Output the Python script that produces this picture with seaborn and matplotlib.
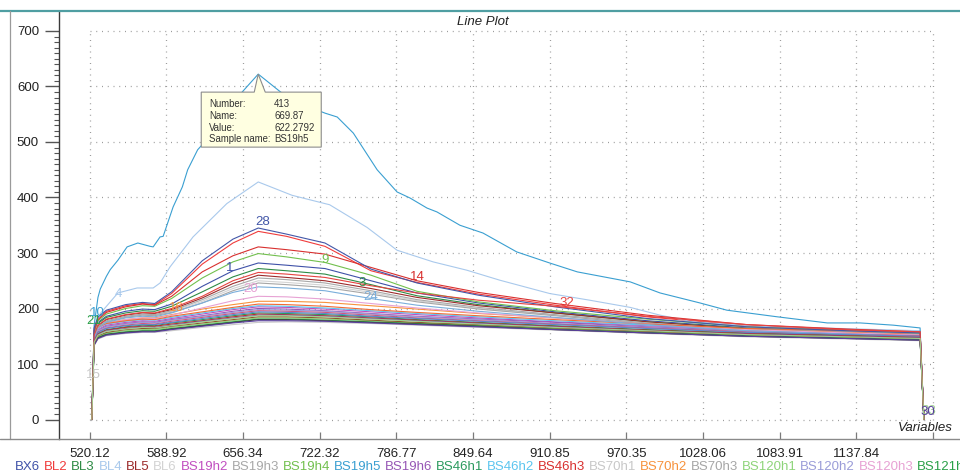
import matplotlib
matplotlib.use("Agg")
import matplotlib.pyplot as plt
import matplotlib.transforms as mtransforms
from matplotlib.lines import Line2D
from matplotlib.patches import Polygon
from matplotlib.text import Annotation
from matplotlib.ticker import FixedLocator
import pandas as pd
import seaborn as sns

# ---- data -------------------------------------------------------------
variable_number = [196, 199, 204, 215, 240, 262, 278, 300, 340, 380, 413,
                   450, 500, 560, 620, 700, 800, 920, 1050, 1180, 1276, 1281]

tick_positions = [193, 293, 393, 493, 593, 693, 793, 893, 993, 1093, 1193, 1293]
tick_labels = ["520.12", "588.92", "656.34", "722.32", "786.77", "849.64",
               "910.85", "970.35", "1028.06", "1083.91", "1137.84", ""]

# the two tallest spectra are sampled more finely
bs19h5_variable = [196, 199, 204, 207, 215, 220, 230, 242, 256, 272, 276, 285, 289,
                   302, 314, 321, 334, 361, 392, 413, 444, 467, 500, 516, 537, 568,
                   594, 611, 633, 646, 676, 706, 750, 793, 829, 898, 937, 989, 1024,
                   1090, 1155, 1198, 1241, 1276, 1281]
bs19h5 = [0, 170, 220, 235, 258, 270, 287, 311, 318, 312, 311, 329, 330,
          383, 419, 450, 486, 527, 590, 622.2792, 588, 570, 552, 545, 516, 450,
          410, 399, 381, 374, 350, 336, 302, 282, 266, 248, 228, 210, 197,
          185, 174, 174, 170, 165, 0]

bl4_variable = [196, 199, 207, 230, 255, 276, 285, 298, 328, 372, 413, 457, 500,
                506, 555, 594, 641, 685, 728, 793, 845, 898, 937, 980, 1068, 1198,
                1276, 1281]
bl4 = [0, 150, 191, 228, 237, 237, 246, 275, 329, 389, 428, 404, 389,
       387, 346, 305, 284, 269, 251, 227, 215, 202, 188, 176, 168, 163,
       160, 0]

bx6 = [0, 155, 175, 186, 195, 199, 198, 208, 240, 268, 282, 278, 272, 250, 228, 210, 194, 178, 165, 158, 153, 0]
bl2 = [0, 163, 183, 195, 205, 209, 207, 227, 280, 318, 339, 330, 312, 268, 247, 226, 206, 185, 169, 161, 157, 0]
bl3 = [0, 154, 173, 184, 192, 196, 195, 204, 230, 257, 272, 268, 262, 243, 223, 207, 192, 176, 164, 157, 152, 0]
bl5 = [0, 151, 168, 180, 188, 192, 191, 198, 219, 245, 260, 256, 250, 236, 220, 205, 192, 176, 163, 156, 151, 0]
bl6 = [0, 150, 166, 177, 185, 189, 188, 195, 213, 236, 250, 247, 242, 229, 214, 200, 188, 173, 161, 155, 150, 0]
bs19h2 = [0, 147, 163, 170, 175, 178, 177, 182, 190, 198, 203, 202, 199, 194, 189, 183, 176, 169, 162, 158, 155, 0]
bs19h3 = [0, 151, 167, 178, 186, 190, 189, 196, 216, 240, 255, 252, 246, 232, 216, 202, 189, 174, 162, 155, 150, 0]
bs19h4 = [0, 158, 178, 190, 200, 205, 204, 218, 255, 284, 299, 293, 283, 260, 231, 212, 196, 181, 167, 160, 155, 0]
bs19h6 = [0, 146, 161, 168, 173, 176, 175, 180, 187, 195, 200, 199, 196, 191, 186, 181, 175, 167, 160, 156, 153, 0]
bs46h1 = [0, 142, 155, 162, 167, 170, 169, 174, 180, 187, 192, 191, 189, 185, 180, 175, 169, 162, 156, 152, 149, 0]
bs46h2 = [0, 149, 164, 172, 177, 180, 179, 184, 192, 200, 205, 204, 201, 196, 191, 185, 178, 170, 163, 159, 156, 0]
bs46h3 = [0, 160, 180, 193, 203, 208, 206, 222, 266, 295, 311, 306, 298, 274, 250, 229, 209, 188, 171, 163, 158, 0]
bs70h1 = [0, 133, 145, 151, 155, 157, 157, 160, 166, 171, 175, 176, 175, 173, 170, 166, 161, 155, 149, 145, 142, 0]
bs70h2 = [0, 150, 166, 174, 180, 183, 183, 189, 199, 207, 213, 213, 211, 205, 199, 191, 183, 172, 162, 157, 153, 0]
bs70h3 = [0, 149, 165, 176, 184, 188, 187, 193, 210, 232, 246, 243, 238, 226, 212, 199, 187, 172, 160, 154, 149, 0]
bs120h1 = [0, 137, 149, 156, 160, 162, 162, 166, 172, 178, 183, 183, 181, 178, 174, 170, 164, 158, 152, 148, 145, 0]
bs120h2 = [0, 145, 160, 167, 172, 175, 174, 179, 186, 193, 198, 197, 195, 190, 185, 180, 173, 166, 159, 155, 152, 0]
bs120h3 = [0, 148, 164, 173, 180, 183, 182, 188, 201, 214, 222, 221, 217, 209, 201, 192, 183, 172, 162, 156, 152, 0]
bs121h1 = [0, 136, 148, 154, 158, 160, 160, 164, 170, 176, 181, 181, 179, 176, 173, 169, 163, 157, 151, 147, 144, 0]
bs121h2 = [0, 144, 158, 165, 170, 173, 172, 177, 184, 191, 196, 195, 193, 188, 183, 178, 172, 165, 158, 154, 151, 0]
bs121h3 = [0, 150, 166, 173, 178, 181, 180, 186, 194, 202, 208, 207, 204, 198, 193, 187, 180, 172, 164, 160, 157, 0]
bs122h1 = [0, 148, 165, 175, 183, 186, 185, 192, 210, 229, 239, 237, 232, 218, 206, 195, 184, 171, 160, 154, 149, 0]
bs122h2 = [0, 143, 157, 164, 169, 171, 171, 175, 182, 189, 194, 193, 191, 186, 182, 177, 171, 164, 157, 153, 150, 0]
bs122h3 = [0, 141, 154, 161, 166, 168, 168, 172, 178, 185, 190, 189, 187, 183, 179, 174, 168, 161, 155, 151, 148, 0]
bs165h1 = [0, 140, 153, 160, 164, 167, 166, 170, 177, 183, 188, 188, 186, 182, 178, 173, 167, 160, 154, 150, 147, 0]
bs165h2 = [0, 165, 185, 197, 207, 211, 209, 230, 286, 325, 345, 334, 318, 271, 246, 224, 203, 182, 167, 160, 156, 0]
bs165h3 = [0, 135, 147, 153, 157, 159, 159, 163, 169, 175, 180, 180, 178, 175, 172, 168, 162, 156, 150, 146, 143, 0]
bs168h1 = [0, 134, 146, 152, 156, 158, 158, 162, 168, 174, 178, 178, 177, 174, 171, 167, 162, 156, 150, 146, 143, 0]
bs168h2 = [0, 138, 151, 157, 162, 164, 164, 168, 174, 180, 185, 185, 183, 179, 175, 171, 165, 159, 153, 149, 146, 0]
bs168h3 = [0, 152, 170, 181, 189, 193, 192, 200, 222, 250, 265, 262, 256, 241, 228, 215, 204, 186, 171, 162, 158, 0]
bs168h4 = [0, 139, 152, 159, 163, 166, 165, 169, 176, 182, 187, 187, 185, 181, 177, 172, 166, 160, 153, 149, 146, 0]

sample_names = ["BX6", "BL2", "BL3", "BL4", "BL5", "BL6", "BS19h2", "BS19h3",
                "BS19h4", "BS19h5", "BS19h6", "BS46h1", "BS46h2", "BS46h3",
                "BS70h1", "BS70h2", "BS70h3", "BS120h1", "BS120h2", "BS120h3",
                "BS121h1", "BS121h2", "BS121h3", "BS122h1", "BS122h2", "BS122h3",
                "BS165h1", "BS165h2", "BS165h3", "BS168h1", "BS168h2", "BS168h3",
                "BS168h4"]
sample_colors = ["#3f51a8", "#f03c3c", "#2e8b45", "#a9c9ec", "#9c2b2b", "#d3d3d3",
                 "#c14fc0", "#a8a8a8", "#72c04e", "#3a9fd1", "#9656b5", "#2b9a5e",
                 "#5cc5ef", "#d8302f", "#c8c8c8", "#f7923c", "#a6a6a6", "#8ed47a",
                 "#9a9cd8", "#e7a2d4", "#2aa048", "#d0587e", "#f06a36", "#7aaedb",
                 "#5b86cc", "#b8322a", "#7a4ea3", "#4357a8", "#404040", "#5a3f9e",
                 "#8b5a2b", "#e64340", "#9fcf8f"]
series_values = [bx6, bl2, bl3, bl4, bl5, bl6, bs19h2, bs19h3, bs19h4, bs19h5,
                 bs19h6, bs46h1, bs46h2, bs46h3, bs70h1, bs70h2, bs70h3, bs120h1,
                 bs120h2, bs120h3, bs121h1, bs121h2, bs121h3, bs122h1, bs122h2,
                 bs122h3, bs165h1, bs165h2, bs165h3, bs168h1, bs168h2, bs168h3,
                 bs168h4]
series_variables = {"BS19h5": bs19h5_variable, "BL4": bl4_variable}

# curve numbers written next to some of the lines (series number, x, y)
curve_tags = [(28, 419, 356), (1, 376, 273), (9, 500, 287), (3, 548, 246),
              (14, 621, 257), (32, 816, 210), (20, 403, 235), (16, 306, 201),
              (4, 230, 226), (21, 199, 177), (10, 203, 192), (15, 198, 80),
              (24, 560, 221), (33, 1287, 15), (30, 1286, 14)]

# hovered point shown in the tooltip
peak_sample = "BS19h5"
peak_number = 413
peak_name = "669.87"

# ---- figure -----------------------------------------------------------
sns.set_theme(style="white")
plt.rcParams["font.family"] = ["Liberation Sans", "DejaVu Sans"]

W, H = 960, 472
PT = 72 / 100  # points per pixel at 100 dpi
fig = plt.figure(figsize=(W / 100, H / 100), dpi=100)
fig.patch.set_facecolor("white")
ax = fig.add_axes([59 / W, (H - 439) / H, (950 - 59) / W, (439 - 11) / H])
ax.set_facecolor("white")

rows = []
for name, values in zip(sample_names, series_values):
    xs = series_variables.get(name, variable_number)
    for x, v in zip(xs, values):
        rows.append((name, x, v))
df = pd.DataFrame(rows, columns=["sample", "variable", "value"])

# dotted grid box
grid_kw = dict(colors="#9c9c9c", linestyles=(0, (0.8, 3.8)), lw=0.9, zorder=0)
ax.vlines(tick_positions, 0, 700, **grid_kw)
ax.hlines(list(range(0, 701, 100)), tick_positions[0], tick_positions[-1], **grid_kw)

sns.lineplot(data=df, x="variable", y="value", hue="sample",
             hue_order=sample_names,
             palette=dict(zip(sample_names, sample_colors)),
             estimator=None, sort=False, legend=False, lw=0.8, ax=ax)

ax.set_xlim(153.2, 1315)
ax.set_ylim(-35.1, 736)
ax.set_xlabel("")
ax.set_ylabel("")

# axes decoration
for side in ("top", "right", "bottom"):
    ax.spines[side].set_visible(False)
ax.spines["left"].set_color("#3a3a3a")
ax.spines["left"].set_linewidth(1.0)

ax.set_xticks(tick_positions)
ax.set_xticklabels(tick_labels)
ax.tick_params(axis="x", bottom=True, direction="in", length=7 * PT, width=0.9,
               color="#7a7a7a", pad=9 * PT, labelsize=9.5, labelcolor="#222222")
ax.set_yticks(list(range(0, 701, 100)))
ax.yaxis.set_minor_locator(FixedLocator([v for v in range(0, 701, 10) if v % 100]))
ax.tick_params(axis="y", which="major", left=True, direction="out", length=14 * PT,
               width=1.0, color="#555555", pad=6 * PT, labelsize=9.5,
               labelcolor="#222222")
ax.tick_params(axis="y", which="minor", left=True, direction="out", length=5 * PT,
               width=0.8, color="#555555")

# curve numbers
for num, x, y in curve_tags:
    ax.text(x, y, str(num), color=sample_colors[num - 1], fontsize=9.5,
            ha="center", va="center", zorder=5)

# frame lines
fig.add_artist(Line2D([0, 1], [1 - 10.5 / H, 1 - 10.5 / H], transform=fig.transFigure,
                      color="#4f9ea2", lw=1.6))
fig.add_artist(Line2D([10 / W, 10 / W], [1 - 11 / H, 1 - 439 / H], transform=fig.transFigure,
                      color="#9a9a9a", lw=0.9))
fig.add_artist(Line2D([0, 1], [1 - 439 / H, 1 - 439 / H], transform=fig.transFigure,
                      color="#8a8a8a", lw=1.0))

ax.text((483 - 59) / (950 - 59), (439 - 22) / (439 - 11), "Line Plot",
        transform=ax.transAxes, ha="center", va="center", fontsize=9.5,
        style="italic", color="#222222")
fig.text(925 / W, 1 - 428 / H, "Variables", ha="center", va="center",
         fontsize=9.5, style="italic", color="#222222")

# tooltip for the hovered point
peak_value = bs19h5[bs19h5_variable.index(peak_number)]
px, py = ax.transData.transform((peak_number, peak_value))
tip = Polygon([(-57, -18), (-4, -18), (0, 0), (7, -18), (63, -18), (63, -73), (-57, -73)],
              closed=True, facecolor="#ffffe1", edgecolor="#8c8c8c", lw=0.8,
              transform=mtransforms.Affine2D().translate(px, py), zorder=10,
              clip_on=False)
ax.add_patch(tip)
tip_rows = [("Number:", str(peak_number)), ("Name:", peak_name),
            ("Value:", f"{peak_value:.4f}"), ("Sample name:", peak_sample)]
for i, (key, val) in enumerate(tip_rows):
    dy = -30 - i * 11.7
    for dx, s in ((-49, key), (16, val)):
        ax.annotate(s, xy=(peak_number, peak_value), xycoords="data",
                    xytext=(dx, dy), textcoords="offset pixels",
                    fontsize=6.9, color="#333333", ha="left", va="center",
                    zorder=11, annotation_clip=False)

# coloured sample names along the bottom
prev = fig.text(15 / W, 1 - 470 / H, sample_names[0], color=sample_colors[0],
                fontsize=9.5, ha="left", va="baseline")
for name, color in zip(sample_names[1:], sample_colors[1:]):
    prev = fig.add_artist(Annotation(
        name, xy=(1, 0), xycoords=prev, xytext=(3.7, 0),
        textcoords="offset pixels", color=color, fontsize=9.5,
        ha="left", va="bottom"))

fig.savefig("out.png", dpi=100, facecolor="white")
